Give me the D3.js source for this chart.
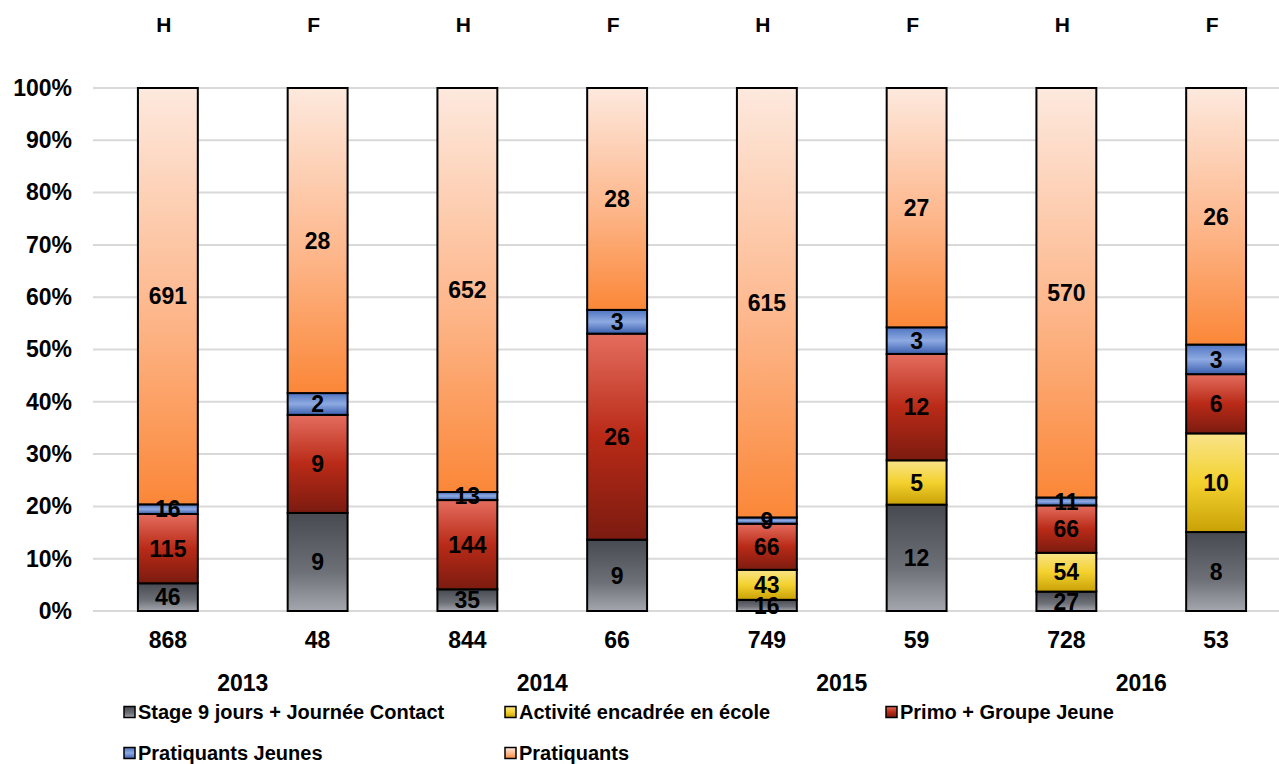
<!DOCTYPE html>
<html><head><meta charset="utf-8">
<script src="https://cdn.jsdelivr.net/npm/d3@7"></script>
<style>body{margin:0;background:#fff;}svg{display:block;font-family:"Liberation Sans",Arial,sans-serif;font-weight:bold;}</style>
</head><body>
<svg id="c" width="1279" height="764"></svg>
<script>
const bars = ["2013 H","2013 F","2014 H","2014 F","2015 H","2015 F","2016 H","2016 F"];
const sexLabels = ["H","F","H","F","H","F","H","F"];
const years = ["2013","2014","2015","2016"];
const seriesNames = ["Stage 9 jours + Journée Contact","Activité encadrée en école","Primo + Groupe Jeune","Pratiquants Jeunes","Pratiquants"];
const stage = [46, 9, 35, 9, 16, 12, 27, 8];
const activite = [0, 0, 0, 0, 43, 5, 54, 10];
const primo = [115, 9, 144, 26, 66, 12, 66, 6];
const pratJeunes = [16, 2, 13, 3, 9, 3, 11, 3];
const pratiquants = [691, 28, 652, 28, 615, 27, 570, 26];
const yTicks = [0,0.1,0.2,0.3,0.4,0.5,0.6,0.7,0.8,0.9,1];

const seriesValues = [stage, activite, primo, pratJeunes, pratiquants];
const totals = bars.map((b,i)=>d3.sum(seriesValues, s=>s[i]));

const svg = d3.select("#c");
const defs = svg.append("defs");
const grads = [
  [["0%","#474b51"],["60%","#6d7177"],["100%","#a4a8ae"]],
  [["0%","#f9e48a"],["50%","#f3d12e"],["100%","#c9a106"]],
  [["0%","#e46d5e"],["50%","#b92a17"],["100%","#7b1b10"]],
  [["0%","#4f74c0"],["50%","#8eaae2"],["100%","#3b5fae"]],
  [["0%","#fde9de"],["55%","#fdb68a"],["100%","#fb8738"]]
];
grads.forEach((g,k)=>{
  const lg = defs.append("linearGradient").attr("id","g"+k).attr("x1",0).attr("y1",0).attr("x2",0).attr("y2",1);
  g.forEach(([o,c])=>lg.append("stop").attr("offset",o).attr("stop-color",c));
});

const x = d3.scaleBand().domain(bars).range([93,1291]).paddingInner(0.6).paddingOuter(0.3);
const y = d3.scaleLinear().domain([0,1]).range([611,88]);

// gridlines
svg.append("g").selectAll("line").data(yTicks).join("line")
  .attr("x1",93).attr("x2",1279).attr("y1",d=>y(d)).attr("y2",d=>y(d))
  .attr("stroke","#d9d9d9").attr("stroke-width",2);

// y axis labels
const yAxis = d3.axisLeft(y).tickValues(yTicks).tickFormat(d3.format(".0%")).tickSize(0).tickPadding(0);
const ya = svg.append("g").attr("transform","translate(72,0)").call(yAxis);
ya.select(".domain").remove();
ya.selectAll("text").attr("font-size",23).attr("font-weight","bold").attr("fill","#000").attr("font-family","Liberation Sans, Arial, sans-serif");

// stacked
const rows = bars.map((b,i)=>{const o={bar:b}; seriesNames.forEach((n,k)=>o[n]=seriesValues[k][i]/totals[i]); return o;});
const stack = d3.stack().keys(seriesNames)(rows);
stack.forEach((layer,k)=>{
  const g = svg.append("g");
  g.selectAll("rect").data(layer.filter(d=>d[1]-d[0]>0)).join("rect")
    .attr("x",d=>x(d.data.bar)).attr("width",x.bandwidth())
    .attr("y",d=>y(d[1])).attr("height",d=>y(d[0])-y(d[1]))
    .attr("fill","url(#g"+k+")").attr("stroke","#000").attr("stroke-width",2);
});
stack.forEach((layer,k)=>{
  svg.append("g").selectAll("text").data(layer.map((d,i)=>({d,i})).filter(o=>seriesValues[k][o.i]>0)).join("text")
    .attr("x",o=>x(o.d.data.bar)+x.bandwidth()/2)
    .attr("y",o=>(y(o.d[0])+y(o.d[1]))/2)
    .attr("dy","0.36em").attr("text-anchor","middle").attr("font-size",23).attr("fill","#000")
    .text(o=>seriesValues[k][o.i]);
});

// totals
svg.append("g").selectAll("text").data(bars).join("text")
  .attr("x",d=>x(d)+x.bandwidth()/2).attr("y",640).attr("dy","0.36em")
  .attr("text-anchor","middle").attr("font-size",23).text((d,i)=>totals[i]);
// years
svg.append("g").selectAll("text").data(years).join("text")
  .attr("x",(d,j)=>(x(bars[2*j])+x(bars[2*j+1])+x.bandwidth())/2).attr("y",683).attr("dy","0.36em")
  .attr("text-anchor","middle").attr("font-size",23).text(d=>d);
// H / F
svg.append("g").selectAll("text").data(bars).join("text")
  .attr("x",d=>x(d)+x.bandwidth()/2-4).attr("y",24).attr("dy","0.36em")
  .attr("text-anchor","middle").attr("font-size",21).text((d,i)=>sexLabels[i]);

// legend
const legPos = [[124,712],[505,712],[886,712],[124,753],[505,753]];
seriesNames.forEach((n,k)=>{
  const [lx,ly] = legPos[k];
  svg.append("rect").attr("x",lx).attr("y",ly-5.5).attr("width",11).attr("height",11)
    .attr("fill","url(#g"+k+")").attr("stroke","#000").attr("stroke-width",1.5);
  svg.append("text").attr("x",lx+14).attr("y",ly).attr("dy","0.36em").attr("font-size",20).text(n);
});
</script>
</body></html>
